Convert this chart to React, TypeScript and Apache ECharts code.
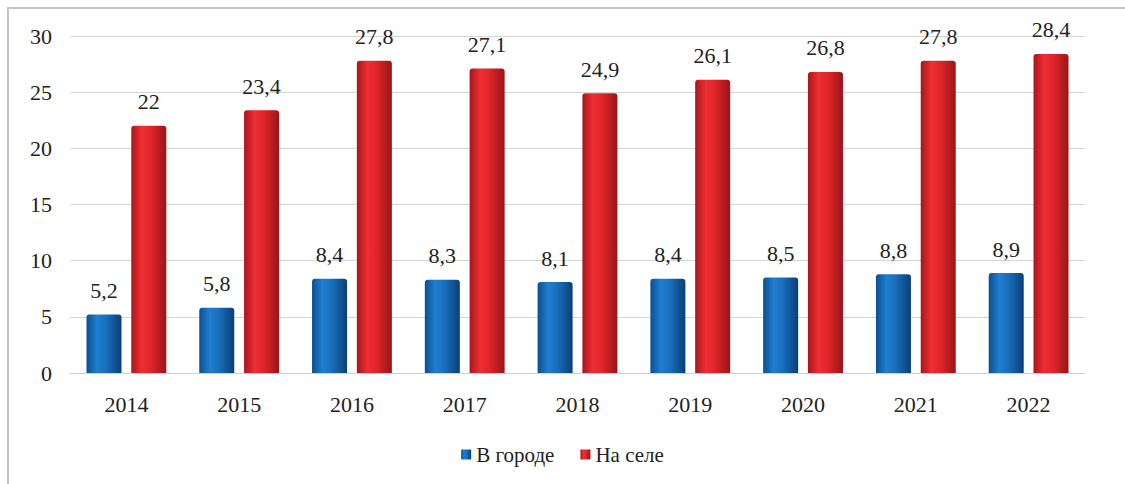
import React, { useEffect, useRef } from "react";
import * as echarts from "echarts";

const categories = ["2014", "2015", "2016", "2017", "2018", "2019", "2020", "2021", "2022"];
const cityValues = [5.2, 5.8, 8.4, 8.3, 8.1, 8.4, 8.5, 8.8, 8.9];
const villageValues = [22, 23.4, 27.8, 27.1, 24.9, 26.1, 26.8, 27.8, 28.4];
const seriesNames = ["В городе", "На селе"];

const fmt = (v: number) => String(v).replace(".", ",");

export default function App() {
  const ref = useRef<HTMLDivElement>(null);
  useEffect(() => {
    if (!ref.current) return;
    const chart = echarts.init(ref.current, undefined, { renderer: "svg" });
    const blueGrad = new echarts.graphic.LinearGradient(0, 0, 1, 0, [
      { offset: 0, color: "#0b4f8f" },
      { offset: 0.3, color: "#1f7fd0" },
      { offset: 0.55, color: "#1a6fbc" },
      { offset: 1, color: "#0a3f78" },
    ]);
    const redGrad = new echarts.graphic.LinearGradient(0, 0, 1, 0, [
      { offset: 0, color: "#a8161b" },
      { offset: 0.3, color: "#ee2e33" },
      { offset: 0.55, color: "#e0262b" },
      { offset: 1, color: "#9a1418" },
    ]);
    const ff = "'Liberation Serif', 'DejaVu Serif', serif";
    const textStyle = { fontFamily: ff, fontSize: 22, color: "#222" };
    chart.setOption({
      animation: false,
      backgroundColor: "#fff",
      textStyle: { fontFamily: ff },
      grid: { left: 70, right: 40, top: 36, bottom: 111 },
      graphic: [
        {
          type: "rect",
          shape: { x: 8, y: 8, width: 1300, height: 700 },
          style: { fill: "none", stroke: "#c4c4c4", lineWidth: 2 },
          z: -1,
        },
      ],
      legend: {
        bottom: 14,
        left: "center",
        itemWidth: 10,
        itemHeight: 10,
        itemGap: 26,
        icon: "rect",
        textStyle: { ...textStyle, fontSize: 21 },
        data: seriesNames,
      },
      xAxis: {
        type: "category",
        data: categories,
        axisLine: { lineStyle: { color: "#d0d0d0" } },
        axisTick: { show: false },
        axisLabel: { ...textStyle, margin: 20 },
      },
      yAxis: {
        type: "value",
        min: 0,
        max: 30,
        interval: 5,
        axisLine: { show: false },
        axisTick: { show: false },
        splitLine: { lineStyle: { color: "#d6d6d6" } },
        axisLabel: { ...textStyle, margin: 18 },
      },
      series: [
        {
          name: seriesNames[0],
          type: "bar",
          data: cityValues,
          barWidth: 35,
          barGap: "28%",
          itemStyle: { color: blueGrad, borderRadius: [3, 3, 0, 0] },
          label: { show: true, position: "top", distance: 13, formatter: (p: any) => fmt(p.value), ...textStyle },
        },
        {
          name: seriesNames[1],
          type: "bar",
          data: villageValues,
          barWidth: 35,
          barGap: "28%",
          itemStyle: { color: redGrad, borderRadius: [3, 3, 0, 0] },
          label: { show: true, position: "top", distance: 13, formatter: (p: any) => fmt(p.value), ...textStyle },
        },
      ],
    });
    return () => chart.dispose();
  }, []);
  return <div ref={ref} style={{ position: "absolute", left: 0, top: 0, width: 1125, height: 484 }} />;
}
